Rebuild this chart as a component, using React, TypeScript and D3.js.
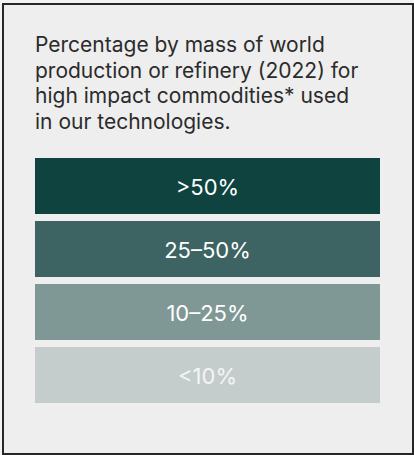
import React from "react";
import * as d3 from "d3";

const titleLines = [
  "Percentage by mass of world",
  "production or refinery (2022) for",
  "high impact commodities* used",
  "in our technologies.",
];
const categories = [">50%", "25–50%", "10–25%", "<10%"];
const barColors = ["#0e4340", "#3d6462", "#7f9896", "#c4cdcc"];
const labelColors = ["#ffffff", "#ffffff", "#ffffff", "#f4f6f6"];

const W = 414;
const H = 455;

export default function App() {
  const y = d3.scaleBand<string>().domain(categories).range([158, 403]).paddingInner(7 / 63).paddingOuter(0);
  const x = d3.scaleLinear().domain([0, 1]).range([35, 380]);
  const lineY = d3.scaleLinear().domain([0, 1]).range([52, 77.5]);
  const font = "Inter, 'Noto Sans', sans-serif";
  return (
    <svg width={W} height={H} style={{ position: "absolute", left: 0, top: 0, display: "block" }}>
      <rect x={0} y={0} width={W} height={H} fill="#f2f2f2" />
      <rect x={3} y={4} width={410} height={450} fill="#eeeeee" stroke="#262626" strokeWidth={2} />
      {titleLines.map((t, i) => (
        <text key={i} x={35} y={lineY(i)} fontFamily={font} fontSize={21} fill="#2b2b2b">
          {t}
        </text>
      ))}
      {categories.map((c, i) => (
        <g key={c}>
          <rect x={x(0)} y={y(c)} width={x(1) - x(0)} height={y.bandwidth()} fill={barColors[i]} />
          <text
            x={(x(0) + x(1)) / 2}
            y={(y(c) as number) + y.bandwidth() / 2 + 9}
            textAnchor="middle"
            fontFamily={font}
            fontSize={22}
            fill={labelColors[i]}
          >
            {c}
          </text>
        </g>
      ))}
    </svg>
  );
}
